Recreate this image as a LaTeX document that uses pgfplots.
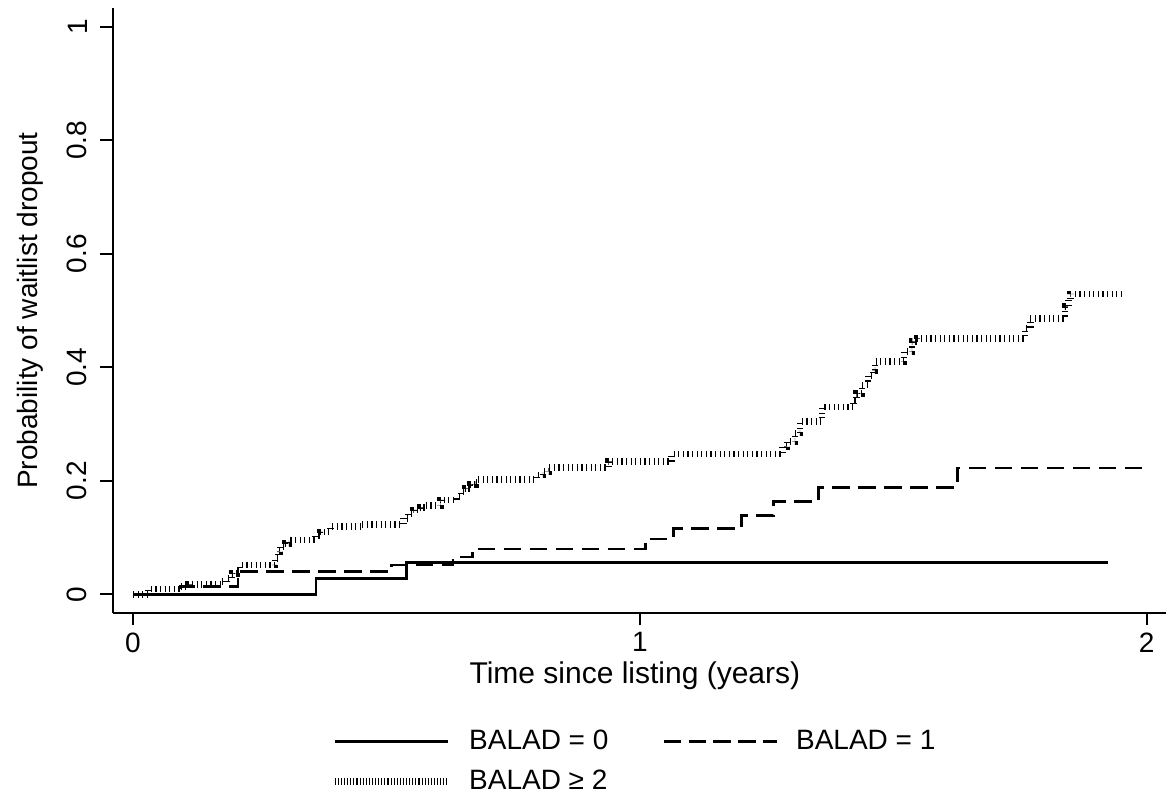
\documentclass[border=0pt]{standalone}
\usepackage{fontspec}
\setmainfont{Liberation Sans}
\usepackage{pgfplots}
\pgfplotsset{compat=1.18}
\usepackage{pgfplotstable}

\pgfplotstableread{
t y
0 0
0.361 0.0275
0.539 0.0557
1.924 0.0557
}\balzero

\pgfplotstableread{
t y
0 0
0.093 0.0134
0.207 0.0398
0.510 0.0516
0.631 0.066
0.670 0.0798
1.011 0.0974
1.067 0.116
1.201 0.1385
1.263 0.164
1.353 0.1885
1.626 0.2225
1.997 0.2225
}\balone

\pgfplotstableread{
t y
0 0
0.030 0.0093
0.093 0.0134
0.109 0.0176
0.175 0.022
0.184 0.028
0.195 0.037
0.205 0.043
0.211 0.0516
0.280 0.063
0.286 0.075
0.290 0.084
0.300 0.090
0.308 0.0957
0.359 0.103
0.369 0.110
0.389 0.119
0.451 0.123
0.533 0.134
0.543 0.143
0.553 0.1485
0.566 0.153
0.576 0.157
0.606 0.166
0.639 0.172
0.647 0.181
0.655 0.187
0.665 0.193
0.675 0.198
0.680 0.2026
0.796 0.210
0.809 0.216
0.820 0.223
0.938 0.2337
1.063 0.247
1.282 0.260
1.290 0.269
1.306 0.284
1.316 0.305
1.359 0.330
1.421 0.342
1.428 0.354
1.438 0.369
1.450 0.386
1.460 0.395
1.464 0.410
1.521 0.4275
1.537 0.445
1.547 0.451
1.760 0.469
1.770 0.486
1.839 0.507
1.845 0.519
1.849 0.529
1.951 0.529
}\baltwo

\begin{document}
\begin{tikzpicture}
\path[use as bounding box] (-56.5pt,-92.65pt) rectangle (528.5pt,306.35pt);
\begin{axis}[
  at={(0pt,0pt)}, anchor=south west,
  scale only axis,
  width=526.5pt, height=302.2pt,
  xmin=-0.0395, xmax=2.038,
  ymin=-0.0324, ymax=1.0326,
  axis lines*=left,
  axis line style={line width=0.85pt, black},
  tick style={line width=0.85pt, black},
  tick align=outside,
  major tick length=6.35pt,
  xtick={0,1,2},
  ytick={0,0.2,0.4,0.6,0.8,1},
  yticklabels={0,0.2,0.4,0.6,0.8,1},
  xticklabels={0,1,2},
  /pgf/number format/assume math mode=true,
  tick label style={font=\fontsize{14}{16}\selectfont},
  yticklabel style={rotate=90, anchor=south, yshift=3pt},
  xlabel={Time since listing (years)},
  ylabel={Probability of waitlist dropout},
  every axis x label/.style={at={(axis description cs:0.4956,-0.1047)}, anchor=center, font=\fontsize{15}{17}\selectfont},
  every axis y label/.style={at={(axis description cs:-0.0788,0.5)}, rotate=90, anchor=center, font=\fontsize{14}{16}\selectfont},
  clip=false,
  legend columns=2,
  legend cell align=left,
  legend style={
    at={(0.207,-0.1875)}, anchor=north west,
    draw=none, fill=none, inner sep=0pt,
    font=\fontsize{14}{16}\selectfont,
    nodes={inner sep=2pt},
    /tikz/every odd column/.append style={column sep=7pt},
    /tikz/every even column/.append style={column sep=25pt},
    row sep=4.5pt,
  },
]
\addplot[const plot, black, line width=1.35pt,
  legend image code/.code={\draw[black, line width=1.3pt] (0pt,0pt) -- (56.5pt,0pt);}]
  table[x=t, y=y] {\balzero};
\addlegendentry{BALAD = 0}
\addplot[const plot, black, line width=1.35pt, dash pattern=on 8.8pt off 4.2pt,
  legend image code/.code={\draw[black, line width=1.3pt, dash pattern=on 8.8pt off 3.6pt] (0pt,0pt) -- (56.5pt,0pt);}]
  table[x=t, y=y] {\balone};
\addlegendentry{BALAD = 1}
\addplot[const plot, black, line width=3.35pt, dash pattern=on 0.6pt off 1.7pt,
  legend image code/.code={\draw[black, line width=3.4pt, dash pattern=on 0.55pt off 1.0pt] (0pt,0pt) -- (56.5pt,0pt);}]
  table[x=t, y=y] {\baltwo};
\addlegendentry{BALAD ≥ 2}
\end{axis}
\end{tikzpicture}
\end{document}
